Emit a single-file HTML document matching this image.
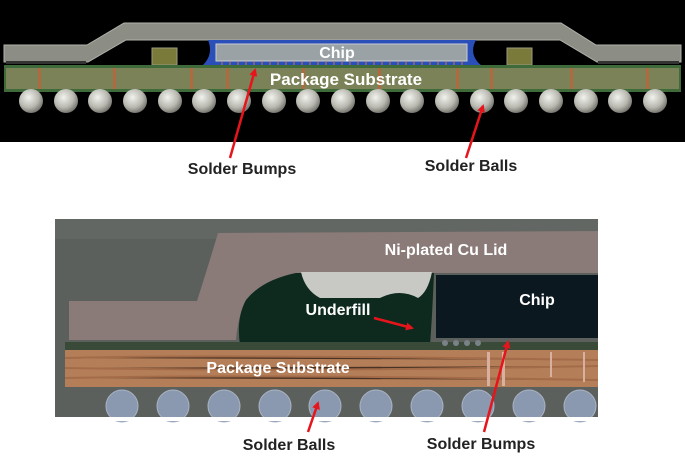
<!DOCTYPE html>
<html><head><meta charset="utf-8"><style>
html,body{margin:0;padding:0;background:#fff;width:685px;height:458px;overflow:hidden}
svg{display:block}
text{font-family:"Liberation Sans",Arial,sans-serif;font-weight:bold}
</style></head><body>
<svg width="685" height="458" viewBox="0 0 685 458" xmlns="http://www.w3.org/2000/svg">
<defs>
<radialGradient id="ball" cx="0.4" cy="0.35" r="0.7">
<stop offset="0" stop-color="#f2f2ee"/><stop offset="0.6" stop-color="#b8b8b0"/><stop offset="1" stop-color="#6a6a64"/>
</radialGradient>
<marker id="ah" markerWidth="8" markerHeight="8" refX="6" refY="4" orient="auto" markerUnits="userSpaceOnUse">
<path d="M0,0 L8,4 L0,8 z" fill="#e8141c"/></marker>
</defs>
<rect x="0" y="0" width="685" height="142" fill="#000"/>
<!-- lid -->
<path d="M4,45 L4,62 L88,62 L126,40 L560,40 L597,62 L681,62 L681,45 L596,45 L561,23 L124,23 L87,45 Z" fill="#8c8e86" stroke="#b0b2aa" stroke-width="1"/>
<rect x="6" y="61" width="80" height="3" fill="#333"/><rect x="598" y="61" width="81" height="3" fill="#333"/>
<!-- blue underfill + chip -->
<path d="M208,40 L476,40 Q468,55 482,66 L202,66 Q214,55 208,40 Z" fill="#2a4fb8"/>
<rect x="216" y="44" width="251" height="17" fill="#9aa2a6" stroke="#c8ccd0"/>
<g stroke="#c07a50" stroke-width="1">
<path d="M222,61v4M230,61v4M238,61v4M246,61v4M254,61v4M262,61v4M270,61v4M278,61v4M286,61v4M294,61v4M302,61v4M310,61v4M318,61v4M326,61v4M334,61v4M342,61v4M350,61v4M358,61v4M366,61v4M374,61v4M382,61v4M390,61v4M398,61v4M406,61v4M414,61v4M422,61v4M430,61v4M438,61v4M446,61v4M454,61v4M462,61v4"/>
</g>
<rect x="152" y="48" width="25" height="17" fill="#7a7a3a" stroke="#9a9a80"/>
<rect x="507" y="48" width="25" height="17" fill="#7a7a3a" stroke="#9a9a80"/>
<!-- substrate -->
<rect x="4" y="65" width="677" height="27" fill="#3f6a3a"/>
<rect x="6" y="68" width="673" height="21" fill="#7c8258"/>
<g fill="#b06a40">
<rect x="38" y="68" width="3" height="21"/><rect x="113" y="68" width="3" height="21"/><rect x="190" y="68" width="3" height="21"/><rect x="226" y="68" width="3" height="21"/><rect x="302" y="68" width="3" height="21"/><rect x="378" y="68" width="3" height="21"/><rect x="456" y="68" width="3" height="21"/><rect x="490" y="68" width="3" height="21"/><rect x="570" y="68" width="3" height="21"/><rect x="646" y="68" width="3" height="21"/>
</g>
<text x="346" y="85" font-size="17" fill="#fff" text-anchor="middle">Package Substrate</text>
<text x="337" y="58" font-size="16" fill="#fff" text-anchor="middle">Chip</text>
<g fill="url(#ball)">
<circle cx="31" cy="101" r="12"/><circle cx="66" cy="101" r="12"/><circle cx="100" cy="101" r="12"/><circle cx="135" cy="101" r="12"/><circle cx="170" cy="101" r="12"/><circle cx="204" cy="101" r="12"/><circle cx="239" cy="101" r="12"/><circle cx="274" cy="101" r="12"/><circle cx="308" cy="101" r="12"/><circle cx="343" cy="101" r="12"/><circle cx="378" cy="101" r="12"/><circle cx="412" cy="101" r="12"/><circle cx="447" cy="101" r="12"/><circle cx="482" cy="101" r="12"/><circle cx="516" cy="101" r="12"/><circle cx="551" cy="101" r="12"/><circle cx="586" cy="101" r="12"/><circle cx="620" cy="101" r="12"/><circle cx="655" cy="101" r="12"/>
</g>
<line x1="230" y1="158" x2="255" y2="70" stroke="#e8141c" stroke-width="2.5" marker-end="url(#ah)"/>
<line x1="466" y1="158" x2="483" y2="106" stroke="#e8141c" stroke-width="2.5" marker-end="url(#ah)"/>
<text x="242" y="174" font-size="16" fill="#222" text-anchor="middle">Solder Bumps</text>
<text x="471" y="171" font-size="16" fill="#222" text-anchor="middle">Solder Balls</text>

<!-- bottom photo -->
<rect x="55" y="219" width="543" height="199" fill="#5b605c"/>
<rect x="55" y="219" width="543" height="20" fill="#6a6e6a" opacity="0.5"/>
<path d="M218,233 L598,231 L598,273 L296,273 Q262,280 246,300 Q238,316 236,340 L69,340 L69,301 L197,301 Q210,260 218,233 Z" fill="#8a7a78"/>
<path d="M296,273 L434,273 Q432,320 430,345 L240,345 Q236,318 246,300 Q262,280 296,273 Z" fill="#0e2a1e"/>
<path d="M301,272 L432,272 Q428,292 418,298 Q400,288 380,298 L320,298 Q305,290 301,272 Z" fill="#c8c8c4"/>
<rect x="436" y="275" width="162" height="63" fill="#0c1820"/>
<rect x="65" y="342" width="533" height="8" fill="#3a4a38"/>
<rect x="65" y="350" width="533" height="37" fill="#b47e58"/>
<g stroke="#9a6040" stroke-width="2" opacity="0.6">
<path d="M65,358 Q200,354 598,360M65,368 Q300,372 598,366M65,378 Q250,374 598,380"/>
</g>
<g fill="#d8b0a0"><rect x="487" y="352" width="3" height="34"/><rect x="502" y="352" width="3" height="34"/><rect x="550" y="352" width="2" height="25"/><rect x="583" y="352" width="2" height="30"/></g>
<g fill="#7a8288"><circle cx="445" cy="343" r="3"/><circle cx="456" cy="343" r="3"/><circle cx="467" cy="343" r="3"/><circle cx="478" cy="343" r="3"/></g>
<g fill="#8a98b0" stroke="#aab4c4" stroke-width="1">
<circle cx="122" cy="406" r="16"/><circle cx="173" cy="406" r="16"/><circle cx="224" cy="406" r="16"/><circle cx="275" cy="406" r="16"/><circle cx="325" cy="406" r="16"/><circle cx="376" cy="406" r="16"/><circle cx="427" cy="406" r="16"/><circle cx="478" cy="406" r="16"/><circle cx="529" cy="406" r="16"/><circle cx="580" cy="406" r="16"/>
</g>
<rect x="55" y="417" width="543" height="4" fill="#fff"/>
<text x="446" y="255" font-size="16" fill="#fff" text-anchor="middle">Ni-plated Cu Lid</text>
<text x="537" y="305" font-size="16" fill="#fff" text-anchor="middle">Chip</text>
<text x="338" y="315" font-size="16" fill="#fff" text-anchor="middle">Underfill</text>
<text x="278" y="373" font-size="16" fill="#fff" text-anchor="middle">Package Substrate</text>
<line x1="374" y1="318" x2="412" y2="328" stroke="#e8141c" stroke-width="2.5" marker-end="url(#ah)"/>
<line x1="308" y1="432" x2="318" y2="403" stroke="#e8141c" stroke-width="2.5" marker-end="url(#ah)"/>
<line x1="484" y1="432" x2="508" y2="342" stroke="#e8141c" stroke-width="2.5" marker-end="url(#ah)"/>
<text x="289" y="450" font-size="16" fill="#222" text-anchor="middle">Solder Balls</text>
<text x="481" y="449" font-size="16" fill="#222" text-anchor="middle">Solder Bumps</text>
</svg>
</body></html>
